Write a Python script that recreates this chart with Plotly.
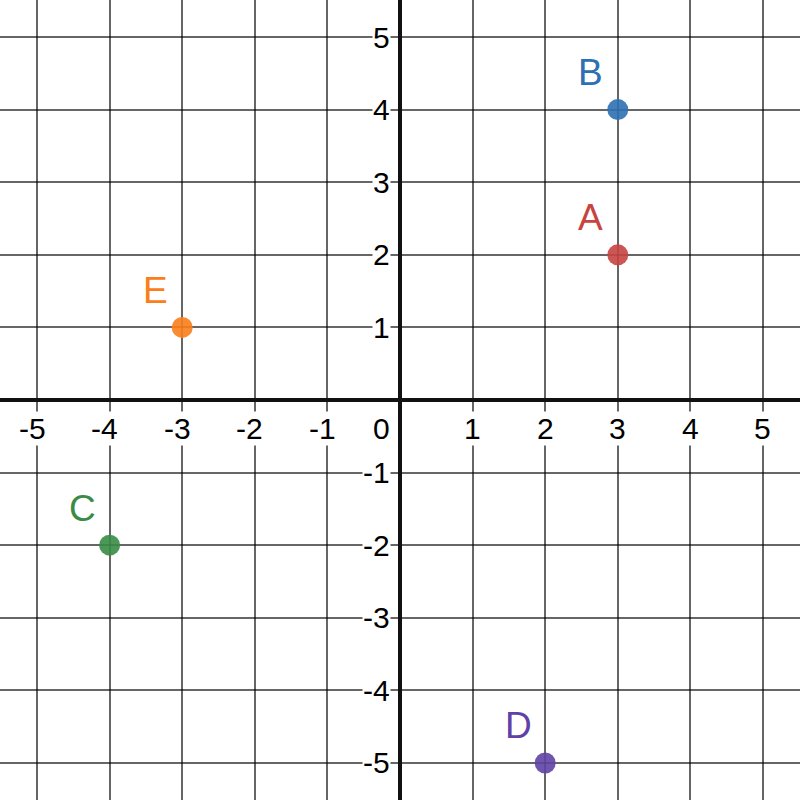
import plotly.graph_objects as go

# Data
point_names = ["A", "B", "C", "D", "E"]
point_x = [3, 3, -4, 2, -3]
point_y = [2, 4, -2, -5, 1]
point_colors = ["#c74440", "#2d70b3", "#388c46", "#6042a6", "#fa7e19"]
x_ticks = [-5, -4, -3, -2, -1, 1, 2, 3, 4, 5]
y_ticks = [-5, -4, -3, -2, -1, 1, 2, 3, 4, 5]

fig = go.Figure()
for n, x, y, c in zip(point_names, point_x, point_y, point_colors):
    fig.add_trace(go.Scatter(
        x=[x], y=[y], mode="markers",
        marker=dict(size=21, color=c, opacity=0.9, line=dict(width=0)),
        showlegend=False, hoverinfo="skip", cliponaxis=False,
    ))

annotations = []
tick_font = dict(family="Liberation Sans, Arial, sans-serif", size=30, color="black")
for t in x_ticks:
    annotations.append(dict(
        x=t, y=0, xref="x", yref="y", text=str(t), showarrow=False,
        xanchor="center", yanchor="middle",
        xshift=(-5 if t < 0 else 0), yshift=-28,
        font=tick_font, bgcolor="white", borderpad=0,
    ))
for t in y_ticks:
    annotations.append(dict(
        x=0, y=t, xref="x", yref="y", text=str(t), showarrow=False,
        xanchor="right", yanchor="middle", xshift=-9, yshift=0,
        font=tick_font, bgcolor="white", borderpad=0,
    ))
annotations.append(dict(
    x=0, y=0, xref="x", yref="y", text="0", showarrow=False,
    xanchor="right", yanchor="middle", xshift=-9, yshift=-28,
    font=tick_font, bgcolor="white", borderpad=0,
))
for n, x, y, c in zip(point_names, point_x, point_y, point_colors):
    annotations.append(dict(
        x=x, y=y, xref="x", yref="y", text=n, showarrow=False,
        xanchor="center", yanchor="middle", xshift=-27, yshift=37,
        font=dict(family="Liberation Sans, Arial, sans-serif", size=37, color=c),
    ))

axis_common = dict(
    range=[-5.51, 5.51], dtick=1, tick0=0, showgrid=True,
    gridcolor="rgba(0,0,0,0.6)", gridwidth=2,
    zeroline=True, zerolinecolor="#111", zerolinewidth=4,
    showticklabels=False, ticks="", showline=False, fixedrange=True,
)
fig.update_layout(
    width=800, height=800,
    margin=dict(l=0, r=0, t=0, b=0),
    paper_bgcolor="white", plot_bgcolor="white",
    xaxis=axis_common,
    yaxis=axis_common,
    annotations=annotations,
)
fig.write_html(
    "out.html",
    config={"displayModeBar": False},
    post_script="document.body.style.margin='0';document.body.style.overflow='hidden';",
)
